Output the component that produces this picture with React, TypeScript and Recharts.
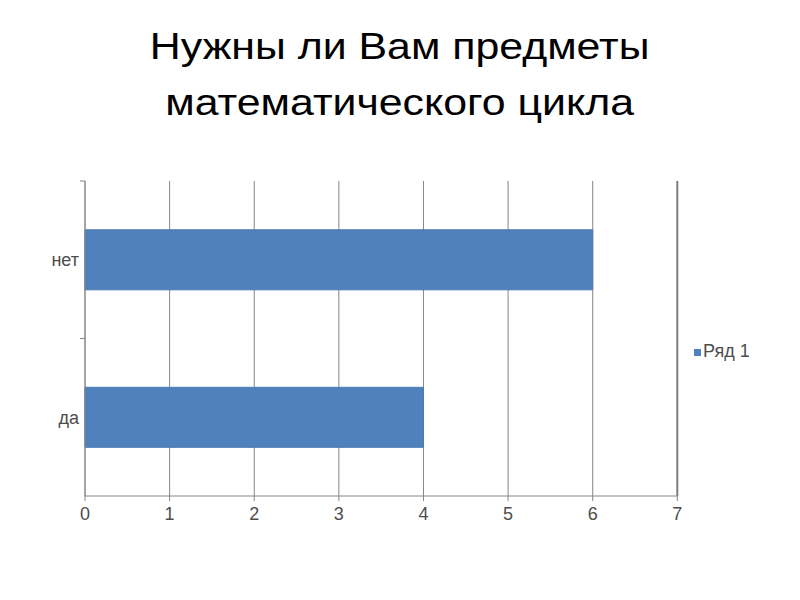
import React from "react";
import {
  Bar,
  BarChart,
  CartesianGrid,
  Legend,
  ReferenceLine,
  XAxis,
  YAxis,
} from "recharts";

const categories = ["нет", "да"];
const values = [6, 4];
const xTicks = [0, 1, 2, 3, 4, 5, 6, 7];
const seriesName = "Ряд 1";

const data = categories.map((c, i) => ({ name: c, value: values[i] }));

const FONT = "'Liberation Sans', Arial, sans-serif";
const AXIS = "#868686";
const LABEL = "#4d4d4d";
const BLUE = "#4f81bd";

function CategoryTick(props: any) {
  const { x, y, payload } = props;
  const axisX = x + 6;
  const edge = y - (payload.offset || 0);
  return (
    <g>
      <line x1={axisX - 5} x2={axisX} y1={edge} y2={edge} stroke={AXIS} />
      <text
        x={x}
        y={y}
        dy="0.35em"
        textAnchor="end"
        fill={LABEL}
        fontSize={18}
        fontFamily={FONT}
      >
        {payload.value}
      </text>
    </g>
  );
}

export default function App() {
  return (
    <div
      style={{
        position: "absolute",
        left: 0,
        top: 0,
        width: 800,
        height: 600,
        background: "#fff",
        fontFamily: FONT,
      }}
    >
      <div
        style={{
          position: "absolute",
          left: 0,
          top: 19,
          width: 800,
          textAlign: "center",
          fontSize: 36,
          lineHeight: "56px",
          color: "#000",
          transform: "scaleX(1.19)",
          transformOrigin: "402px 0",
        }}
      >
        Нужны ли Вам предметы
        <br />
        математического цикла
      </div>
      <div style={{ position: "absolute", left: 0, top: 0 }}>
        <BarChart
          width={800}
          height={600}
          data={data}
          layout="vertical"
          margin={{ top: 181, right: 57, bottom: 74, left: 45 }}
          barCategoryGap="31%"
        >
          <CartesianGrid horizontal={false} stroke={AXIS} strokeWidth={1} />
          <XAxis
            type="number"
            domain={[0, 7]}
            ticks={xTicks}
            interval={0}
            height={30}
            stroke={AXIS}
            tickSize={5}
            tickMargin={6}
            tick={{ fill: LABEL, fontSize: 18, fontFamily: FONT }}
          />
          <YAxis
            type="category"
            dataKey="name"
            width={40}
            stroke={AXIS}
            tickSize={0}
            tickMargin={6}
            tick={<CategoryTick />}
          />
          <ReferenceLine x={7} stroke="#808080" strokeWidth={2} />
          <Legend
            layout="horizontal"
            verticalAlign="middle"
            align="right"
            iconType="square"
            iconSize={7}
            wrapperStyle={{
              left: 694,
              top: 341,
              width: "auto",
              fontFamily: FONT,
              fontSize: 18,
            }}
            formatter={(v: string) => (
              <span style={{ color: LABEL, marginLeft: -2 }}>{v}</span>
            )}
          />
          <Bar
            dataKey="value"
            name={seriesName}
            fill={BLUE}
            stroke="#4a7ab5"
            isAnimationActive={false}
          />
        </BarChart>
      </div>
    </div>
  );
}
